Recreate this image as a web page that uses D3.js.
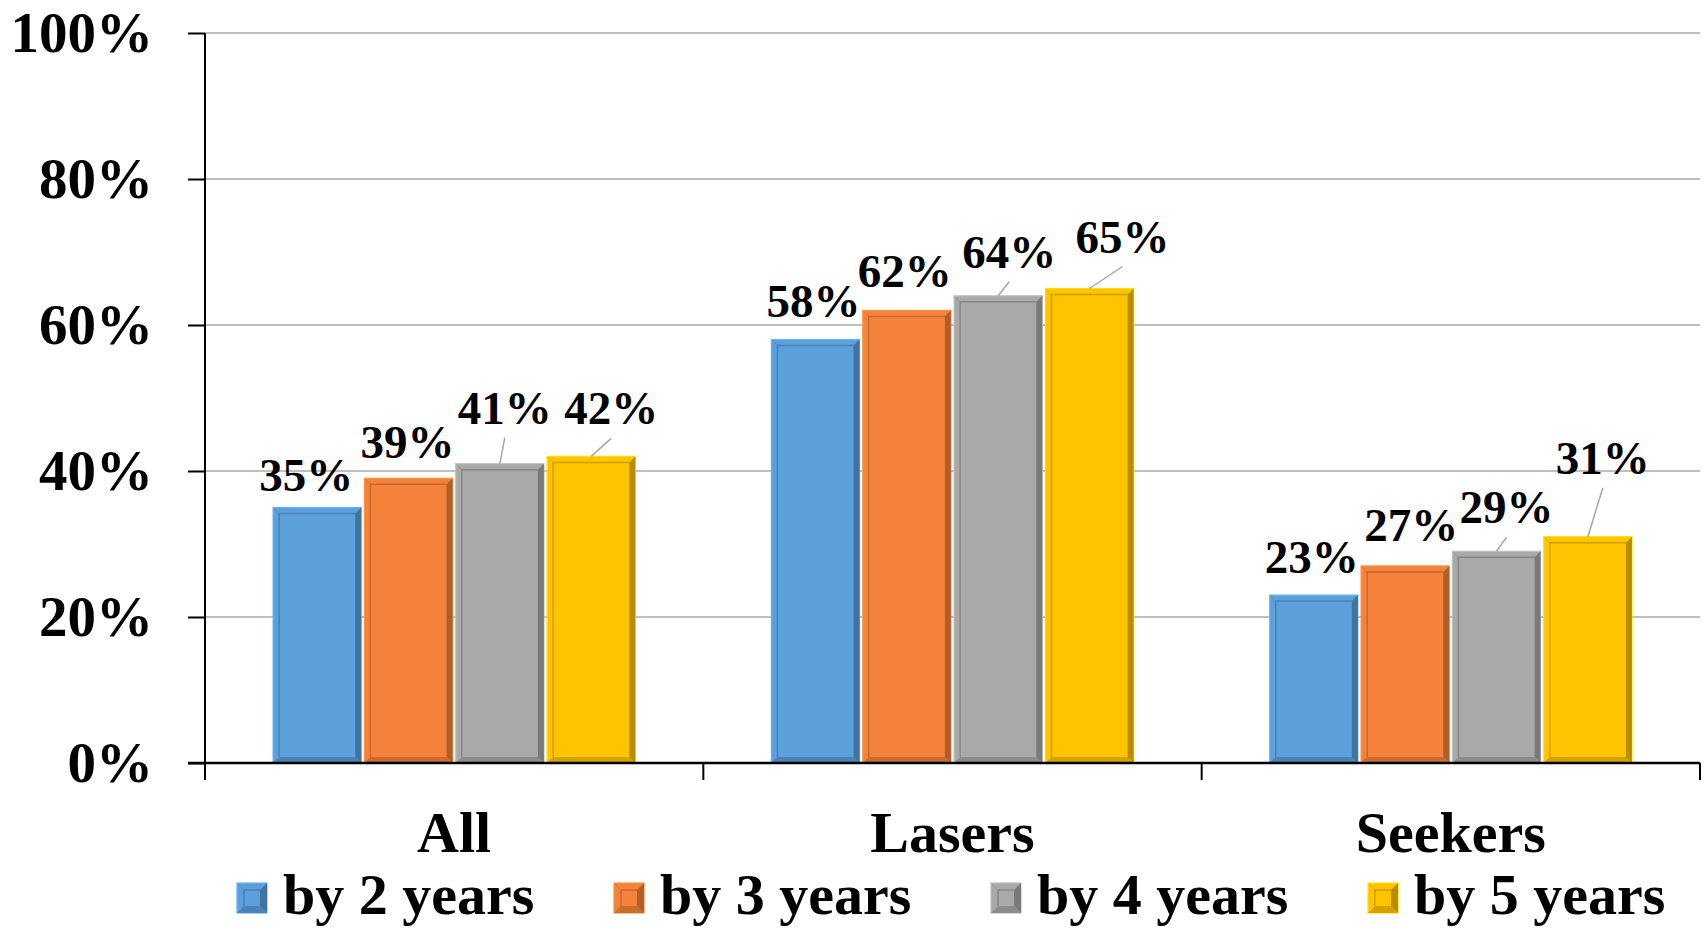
<!DOCTYPE html>
<html>
<head>
<meta charset="utf-8">
<script src="https://cdn.jsdelivr.net/npm/d3@7/dist/d3.min.js"></script>
<style>
  html, body { margin: 0; padding: 0; background: #fff; }
  svg { display: block; }
  text { font-family: "Liberation Serif", "Times New Roman", serif; font-weight: bold; fill: #000; }
</style>
</head>
<body>
<svg id="chart" width="1705" height="928"></svg>
<script>
// ---- data ----
const categories = ["All", "Lasers", "Seekers"];
const seriesNames = ["by 2 years", "by 3 years", "by 4 years", "by 5 years"];
const by2years = [0.35, 0.58, 0.23];
const by3years = [0.39, 0.62, 0.27];
const by4years = [0.41, 0.64, 0.29];
const by5years = [0.42, 0.65, 0.31];
const seriesValues = [by2years, by3years, by4years, by5years];
const yTicks = [0, 0.2, 0.4, 0.6, 0.8, 1.0];

// ---- layout / style ----
const colors = ["#5B9FDB", "#F4823A", "#A9A9A9", "#FFC400"];
// label placement relative to bar top centre [dx, dy, leader]
const labelLayout = [
  [[-11, -17, false], [-1, -20, false], [5, -40, true], [20, -32, true]],
  [[-2, -23, false], [-2, -23, false], [11, -28, true], [33, -36, true]],
  [[-2, -22, false], [6, -25, false], [10, -28, true], [15, -63, true]]
];

const svg = d3.select("#chart");
const x0 = d3.scaleBand().domain(categories).range([205, 1700]).paddingInner(0).paddingOuter(0);
const x1 = d3.scaleBand().domain(d3.range(seriesNames.length)).range([0, x0.bandwidth()])
  .paddingInner(0.035).paddingOuter(0.745);
const y = d3.scaleLinear().domain([0, 1]).range([763, 33]);

// gridlines
svg.append("g").selectAll("line").data(yTicks.filter(d => d > 0)).join("line")
  .attr("x1", 205).attr("x2", 1700)
  .attr("y1", d => y(d)).attr("y2", d => y(d))
  .attr("stroke", "#BFBFBF").attr("stroke-width", 2);

// bevelled bar drawing
function bevel(g, x, yTop, w, h, c, inset) {
  const col = d3.color(c);
  const dark = col.darker(1.1).formatHex();
  const mid = col.darker(0.6).formatHex();
  const light = col.brighter(0.35).formatHex();
  g.append("rect").attr("x", x).attr("y", yTop).attr("width", w).attr("height", h)
    .attr("fill", c).attr("stroke", light).attr("stroke-width", 1.2);
  const i = inset;
  if (h < 2 * i) return;
  g.append("polygon").attr("points", [[x + w, yTop], [x + w, yTop + h], [x + w - i, yTop + h - i], [x + w - i, yTop + i]].join(" "))
    .attr("fill", dark).attr("opacity", 0.85);
  g.append("polygon").attr("points", [[x, yTop + h], [x + w, yTop + h], [x + w - i, yTop + h - i], [x + i, yTop + h - i]].join(" "))
    .attr("fill", mid).attr("opacity", 0.9);
  g.append("path").attr("d", `M${x + i},${yTop + h - i} L${x + i},${yTop + i} L${x + w - i},${yTop + i}`)
    .attr("fill", "none").attr("stroke", mid).attr("stroke-width", 1.5);
  g.append("line").attr("x1", x + 1).attr("y1", yTop + 1).attr("x2", x + i).attr("y2", yTop + i)
    .attr("stroke", mid).attr("stroke-width", 0.8).attr("opacity", 0.6);
}

const bars = svg.append("g");
categories.forEach((cat, ci) => {
  seriesValues.forEach((vals, si) => {
    const v = vals[ci];
    const bx = x0(cat) + x1(si);
    const g = bars.append("g");
    bevel(g, bx, y(v), x1.bandwidth(), y(0) - y(v), colors[si], 6);
  });
});

// y axis
const yAxis = d3.axisLeft(y).tickValues(yTicks).tickSize(17).tickFormat("");
const ya = svg.append("g").attr("transform", "translate(205,0)").call(yAxis);
ya.select(".domain").remove();
ya.selectAll(".tick line").attr("stroke", "#000").attr("stroke-width", 2);
svg.append("line").attr("x1", 205).attr("x2", 205).attr("y1", y(1)).attr("y2", y(0))
  .attr("stroke", "#000").attr("stroke-width", 2);
svg.append("g").selectAll("text").data(yTicks).join("text")
  .attr("x", 153).attr("y", d => y(d) + 19)
  .attr("text-anchor", "end").attr("font-size", 57)
  .text(d => d3.format(".0%")(d));

// x axis
svg.append("line").attr("x1", 188).attr("x2", 1700).attr("y1", y(0)).attr("y2", y(0))
  .attr("stroke", "#000").attr("stroke-width", 2.5);
const boundaries = categories.map(c => x0(c)).concat([x0.range()[1]]);
svg.append("g").selectAll("line").data(boundaries).join("line")
  .attr("x1", d => d).attr("x2", d => d).attr("y1", y(0)).attr("y2", y(0) + 17)
  .attr("stroke", "#000").attr("stroke-width", 2);
svg.append("g").selectAll("text").data(categories).join("text")
  .attr("x", d => x0(d) + x0.bandwidth() / 2).attr("y", 852)
  .attr("text-anchor", "middle").attr("font-size", 58)
  .text(d => d);

// data labels
const labels = svg.append("g");
categories.forEach((cat, ci) => {
  seriesValues.forEach((vals, si) => {
    const v = vals[ci];
    const cx = x0(cat) + x1(si) + x1.bandwidth() / 2;
    const [dx, dy, leader] = labelLayout[ci][si];
    const lx = cx + dx, ly = y(v) + dy;
    if (leader) {
      labels.append("line").attr("x1", lx).attr("y1", ly + 14).attr("x2", cx).attr("y2", y(v))
        .attr("stroke", "#A6A6A6").attr("stroke-width", 1.5);
    }
    labels.append("text").attr("x", lx).attr("y", ly)
      .attr("text-anchor", "middle").attr("font-size", 47)
      .text(d3.format(".0%")(v));
  });
});

// legend
const legend = svg.append("g");
seriesNames.forEach((name, si) => {
  const lxs = 237 + si * 377;
  const g = legend.append("g");
  bevel(g, lxs, 883, 30, 30, colors[si], 7);
  legend.append("text").attr("x", lxs + 46).attr("y", 914).attr("font-size", 58).text(name);
});
</script>
</body>
</html>
